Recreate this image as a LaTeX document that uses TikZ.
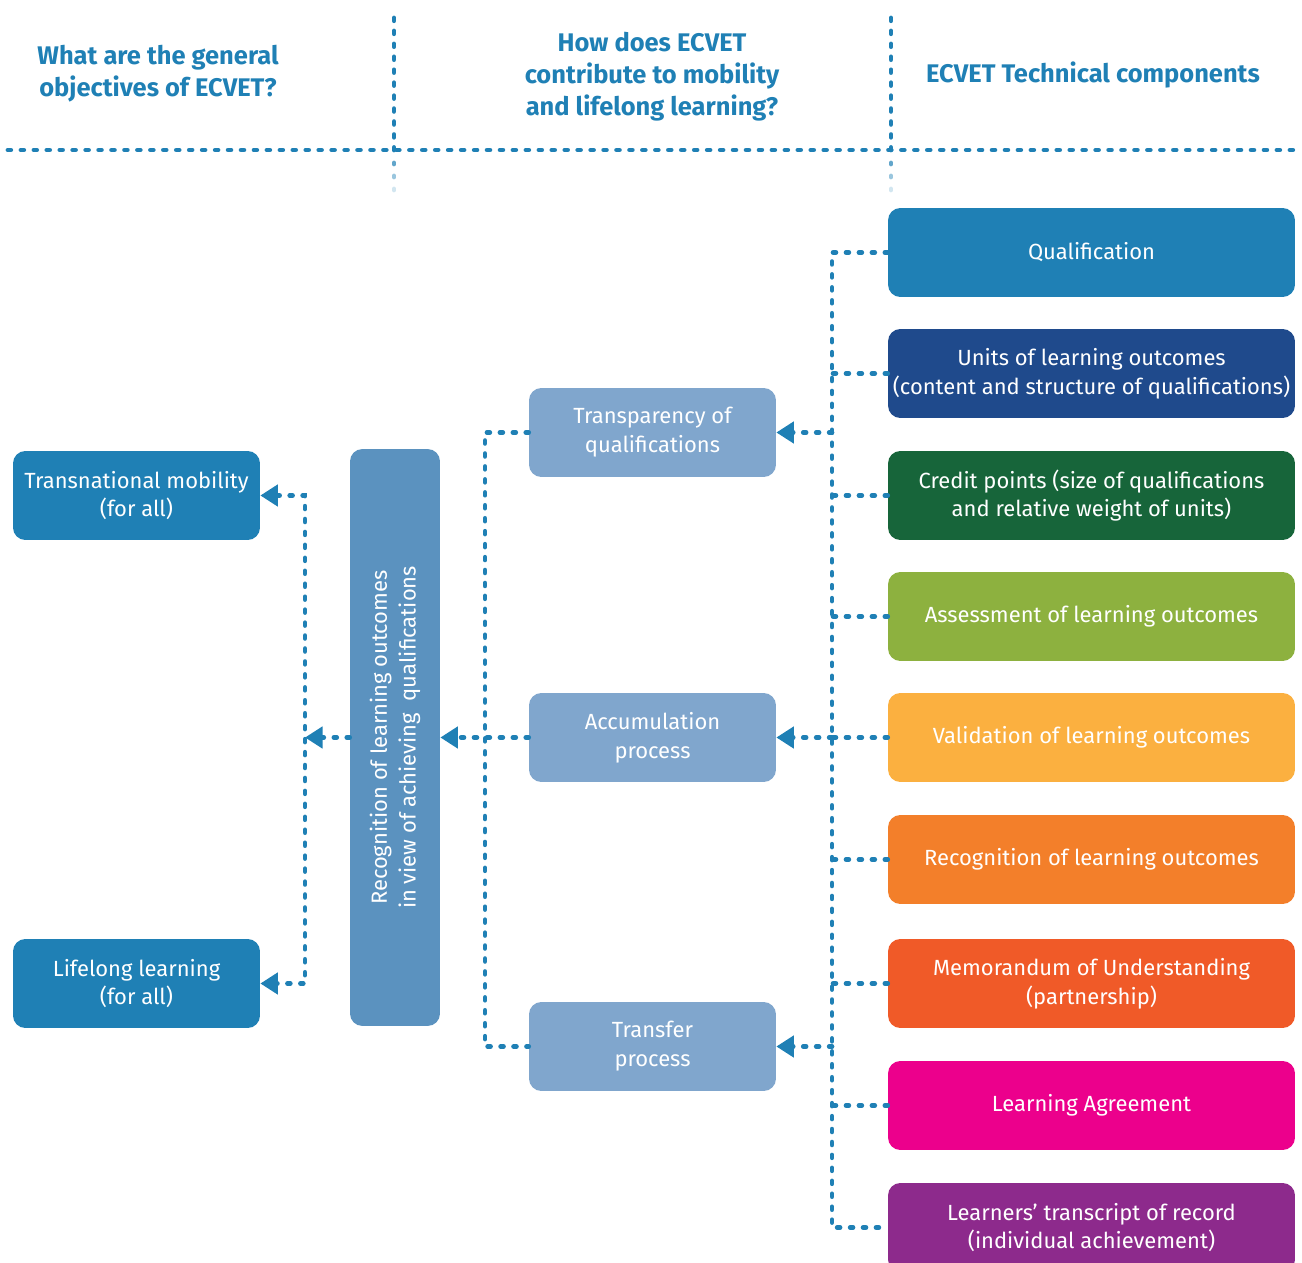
\documentclass[tikz,border=0pt]{standalone}
\usepackage{fontspec}
\setmainfont{Fira Sans}
\usetikzlibrary{arrows.meta}
\definecolor{ecblue}{HTML}{1F80B5}
\definecolor{midblue}{HTML}{80A6CD}
\definecolor{longblue}{HTML}{5B92BF}
\definecolor{unitblue}{HTML}{1F4A8C}
\definecolor{creditgreen}{HTML}{17653A}
\definecolor{assessgreen}{HTML}{8DB13F}
\definecolor{validyellow}{HTML}{FBB040}
\definecolor{recogorange}{HTML}{F37F2A}
\definecolor{memored}{HTML}{F05A28}
\definecolor{agreepink}{HTML}{EC008C}
\definecolor{transpurple}{HTML}{8D2A8C}
\begin{document}
\begin{tikzpicture}[x=0.02cm,y=-0.02cm,>={Triangle[length=10pt,width=12pt]},
  box/.style={rounded corners=7pt,text=white,align=center,inner sep=0pt,font=\fontsize{12.5}{16.4}\selectfont},
  rbox/.style={box,minimum width=8.14cm,minimum height=1.78cm},
  mbox/.style={box,fill=midblue,minimum width=4.94cm,minimum height=1.78cm},
  lbox/.style={box,fill=ecblue,minimum width=4.94cm,minimum height=1.78cm},
  dotline/.style={ecblue,line width=2.7pt,line cap=round,dash pattern=on 1.6pt off 5.77pt},
  head/.style={ecblue,align=center,font=\bfseries\fontsize{14.5}{18.2}\selectfont}]
\useasboundingbox (0,0) rectangle (1302,1263);
% headings
\node[head] (hobj) at (158,74) {What are the general\\objectives of ECVET?};
\node[head] (hhow) at (652,77) {How does ECVET\\contribute to mobility\\and lifelong learning?};
\node[head] (htech) at (1093,75) {ECVET Technical components};
\draw[dotline] (8,150)--(1295,150);
\draw[dotline] (394,18)--(394,150);
\draw[dotline] (891,18)--(891,150);
\foreach \y/\o in {163/.7,176/.45,189/.2}{
  \draw[dotline,opacity=\o] (394,\y)--(394,\y+1);
  \draw[dotline,opacity=\o] (891,\y)--(891,\y+1);}
% technical components
\node[rbox,fill=ecblue] (qual) at (1091.5,252.5) {Qualification};
\node[rbox,fill=unitblue] (units) at (1091.5,373.5) {Units of learning outcomes\\(content and structure of qualifications)};
\node[rbox,fill=creditgreen] (credit) at (1091.5,495.5) {Credit points (size of qualifications\\and relative weight of units)};
\node[rbox,fill=assessgreen] (assess) at (1091.5,616.5) {Assessment of learning outcomes};
\node[rbox,fill=validyellow] (valid) at (1091.5,737.5) {Validation of learning outcomes};
\node[rbox,fill=recogorange] (recog) at (1091.5,859.5) {Recognition of learning outcomes};
\node[rbox,fill=memored] (memo) at (1091.5,983.5) {Memorandum of Understanding\\(partnership)};
\node[rbox,fill=agreepink] (agree) at (1091.5,1105.5) {Learning Agreement};
\node[rbox,fill=transpurple] (transcript) at (1091.5,1227.5) {Learners’ transcript of record\\(individual achievement)};
% processes
\node[mbox] (transp) at (652.5,432.5) {Transparency of\\qualifications};
\node[mbox] (accum) at (652.5,737.5) {Accumulation\\process};
\node[mbox] (transf) at (652.5,1046.5) {Transfer\\process};
\node[box,fill=longblue,minimum width=1.8cm,minimum height=11.54cm] (recbox) at (395,737.5) {};
\node[text=white,align=center,rotate=90,font=\fontsize{12.5}{16.4}\selectfont] (rectext) at (recbox.center) {Recognition of learning outcomes\\in view of achieving\ \ qualifications};
% objectives
\node[lbox] (mobil) at (136.5,495.5) {Transnational mobility\\(for all)};
\node[lbox] (lifelong) at (136.5,983.5) {Lifelong learning\\(for all)};
% connectors
\coordinate (rx) at (832,0);
\coordinate (mx) at (485,0);
\coordinate (lx) at (305,0);
\draw[dotline] (qual.west) -| (transcript.west -| rx) -- (transcript.west);
\foreach \n in {units,credit,assess,valid,recog,memo,agree}
  \draw[dotline] (\n.west) -- (\n.west -| rx);
\foreach \n in {transp,accum,transf}
  \draw[dotline,->] (\n.east -| rx) -- (\n.east);
\draw[dotline] (transp.west) -| (transf.west -| mx) -- (transf.west);
\draw[dotline,->] (accum.west) -- (recbox.east |- accum.west);
\draw[dotline,->] (recbox.west) -- (recbox.west -| lx);
\draw[dotline,<->] (mobil.east) -| (lifelong.east -| lx) -- (lifelong.east);
\end{tikzpicture}
\end{document}
